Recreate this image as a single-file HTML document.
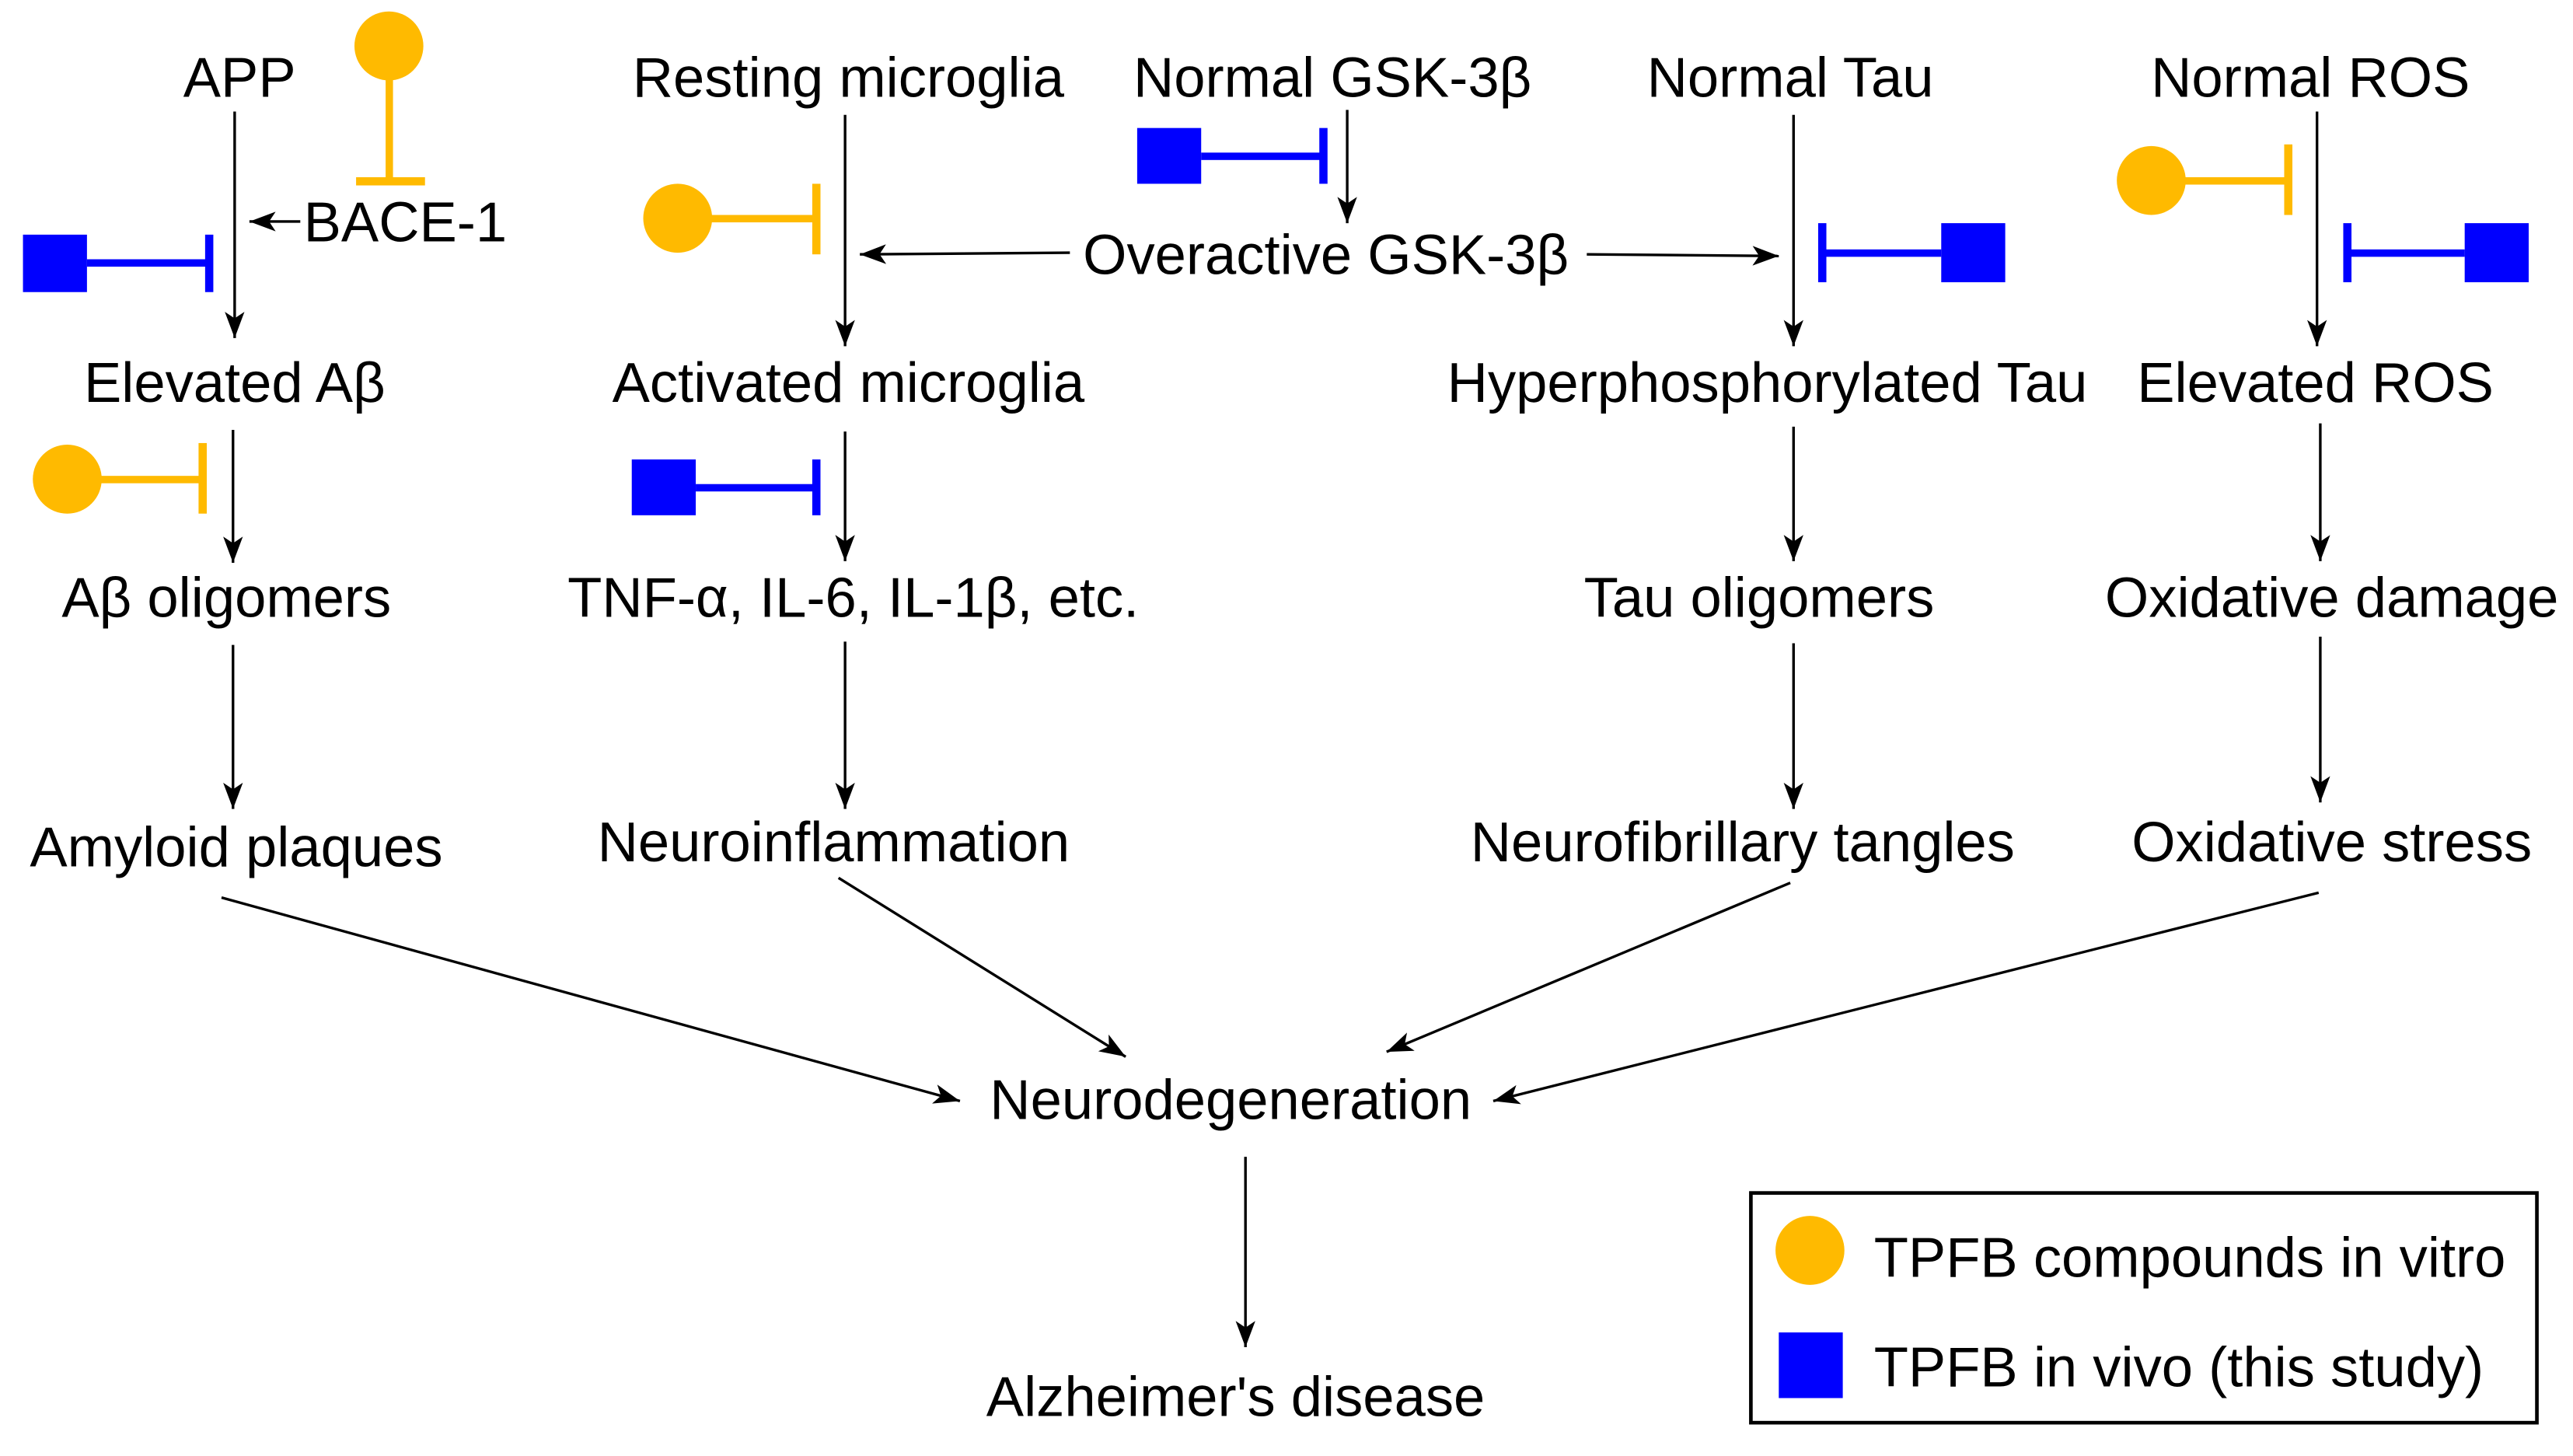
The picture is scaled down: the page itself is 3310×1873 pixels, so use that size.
<!DOCTYPE html>
<html><head><meta charset="utf-8"><style>html,body{margin:0;padding:0;background:#fff}svg{display:block}</style></head>
<body>
<svg width="3310" height="1873" viewBox="0 0 1568 887.3" preserveAspectRatio="none" xmlns="http://www.w3.org/2000/svg">
<defs>
<marker id="a" markerWidth="18" markerHeight="12" refX="16" refY="6" orient="auto" markerUnits="userSpaceOnUse">
<path d="M0,0 L16,6 L0,12 L4,6 Z" fill="#000"/>
</marker>
</defs>
<g font-family="Liberation Sans, Arial, sans-serif" font-size="34.3" text-anchor="middle" fill="#000">
<text x="146" y="59">APP</text>
<text x="517" y="59">Resting microglia</text>
<text x="812" y="59">Normal GSK-3β</text>
<text x="1091" y="59">Normal Tau</text>
<text x="1408" y="59">Normal ROS</text>
<text x="247" y="147">BACE-1</text>
<text x="808" y="167">Overactive GSK-3β</text>
<text x="143" y="245">Elevated Aβ</text>
<text x="517" y="245">Activated microglia</text>
<text x="1077" y="245">Hyperphosphorylated Tau</text>
<text x="1411" y="245">Elevated ROS</text>
<text x="138" y="376">Aβ oligomers</text>
<text x="520" y="376">TNF-α, IL-6, IL-1β, etc.</text>
<text x="1072" y="376">Tau oligomers</text>
<text x="1421" y="376">Oxidative damage</text>
<text x="144" y="528">Amyloid plaques</text>
<text x="508" y="525">Neuroinflammation</text>
<text x="1062" y="525">Neurofibrillary tangles</text>
<text x="1421" y="525">Oxidative stress</text>
<text x="750" y="682">Neurodegeneration</text>
<text x="753" y="863">Alzheimer's disease</text>
<text x="1142" y="778" text-anchor="start">TPFB compounds in vitro</text>
<text x="1142" y="845" text-anchor="start">TPFB in vivo (this study)</text>
</g>
<g stroke="#000" stroke-width="1.6" fill="none" marker-end="url(#a)">
<line x1="143" y1="68" x2="143" y2="206"/>
<line x1="183" y1="135" x2="152" y2="135"/>
<line x1="142" y1="262" x2="142" y2="343"/>
<line x1="142" y1="393" x2="142" y2="493"/>
<line x1="515" y1="70" x2="515" y2="211"/>
<line x1="515" y1="263" x2="515" y2="342"/>
<line x1="515" y1="391" x2="515" y2="493"/>
<line x1="821" y1="67" x2="821" y2="136"/>
<line x1="652" y1="154" x2="524" y2="155"/>
<line x1="967" y1="155" x2="1084" y2="156"/>
<line x1="1093" y1="70" x2="1093" y2="211"/>
<line x1="1093" y1="260" x2="1093" y2="342"/>
<line x1="1093" y1="392" x2="1093" y2="493"/>
<line x1="1412" y1="68" x2="1412" y2="211"/>
<line x1="1414" y1="258" x2="1414" y2="342"/>
<line x1="1414" y1="388" x2="1414" y2="489"/>
<line x1="135" y1="547" x2="585" y2="671"/>
<line x1="511" y1="535" x2="686" y2="644"/>
<line x1="1091" y1="538" x2="845" y2="641"/>
<line x1="1413" y1="544" x2="910" y2="671"/>
<line x1="759" y1="705" x2="759" y2="821"/>
</g>
<g fill="#FFBA00" stroke="none">
<ellipse cx="237" cy="28" rx="21" ry="21"/>
<rect x="235" y="28" width="4.5" height="82"/>
<rect x="217" y="108" width="42" height="5"/>
<ellipse cx="41" cy="292" rx="21" ry="21"/>
<rect x="41" y="290" width="82" height="4.5"/>
<rect x="121" y="270" width="5" height="43"/>
<ellipse cx="413" cy="133" rx="21" ry="21"/>
<rect x="413" y="131" width="84" height="4.5"/>
<rect x="495" y="112" width="5" height="43"/>
<ellipse cx="1311" cy="110" rx="21" ry="21"/>
<rect x="1311" y="108" width="83" height="4.5"/>
<rect x="1392" y="88" width="5" height="43"/>
<ellipse cx="1103" cy="762" rx="21" ry="21"/>
</g>
<g fill="#0000FF" stroke="none">
<rect x="14" y="143" width="39" height="35"/>
<rect x="53" y="158" width="74" height="4.5"/>
<rect x="125" y="143" width="5" height="35"/>
<rect x="385" y="280" width="39" height="34"/>
<rect x="424" y="295" width="73" height="4.5"/>
<rect x="495" y="280" width="5" height="34"/>
<rect x="693" y="78" width="39" height="34"/>
<rect x="732" y="93" width="74" height="4.5"/>
<rect x="804" y="78" width="5" height="34"/>
<rect x="1183" y="136" width="39" height="36"/>
<rect x="1110" y="152" width="73" height="4.5"/>
<rect x="1108" y="136" width="5" height="36"/>
<rect x="1502" y="136" width="39" height="36"/>
<rect x="1430" y="152" width="72" height="4.5"/>
<rect x="1428" y="136" width="5" height="36"/>
<rect x="1084" y="812" width="39" height="40"/>
</g>
<rect x="1067" y="727" width="479" height="140" fill="none" stroke="#000" stroke-width="2.2"/>
</svg>
</body></html>
